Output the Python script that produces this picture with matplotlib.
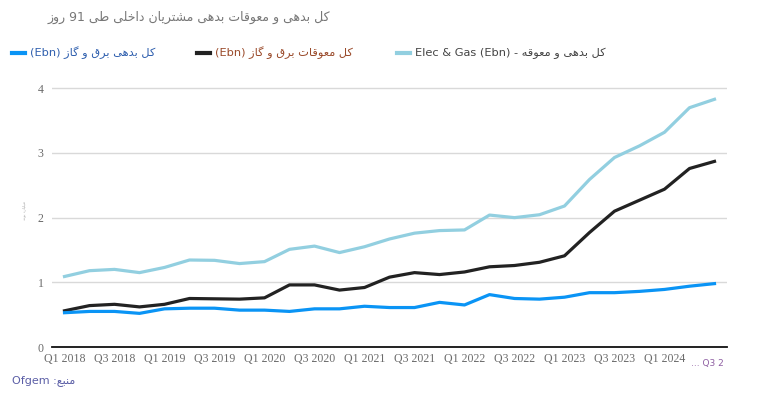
import matplotlib
matplotlib.use("Agg")
import matplotlib.pyplot as plt
from matplotlib.lines import Line2D
import numpy as np

# data (billion pounds, quarterly Q1 2018 .. Q3 2024)
quarters = [f"Q{q} {y}" for y in range(2018, 2025) for q in (1, 2, 3, 4)][:27]
total_debt = [0.53, 0.55, 0.55, 0.52, 0.59, 0.60, 0.60, 0.57, 0.57, 0.55, 0.59,
              0.59, 0.63, 0.61, 0.61, 0.69, 0.65, 0.81, 0.75, 0.74, 0.77,
              0.84, 0.84, 0.86, 0.89, 0.94, 0.98]
arrears = [0.56, 0.64, 0.66, 0.62, 0.66, 0.75, 0.745, 0.74, 0.76, 0.96, 0.96,
           0.88, 0.92, 1.08, 1.15, 1.12, 1.16, 1.24, 1.26, 1.31, 1.41,
           1.77, 2.10, 2.27, 2.44, 2.76, 2.87]
debt_and_arrears = [1.09, 1.18, 1.20, 1.15, 1.23, 1.345, 1.34, 1.29, 1.32, 1.51, 1.56,
                    1.46, 1.55, 1.67, 1.76, 1.80, 1.81, 2.04, 2.00, 2.045, 2.18,
                    2.59, 2.93, 3.11, 3.32, 3.70, 3.83]
tick_labels = quarters[0::2]

# --- minimal Persian shaping (matplotlib has no text shaper) ---
FORMS = {
    "ا": (0xFE8D, 0xFE8E, None, None), "آ": (0xFE81, 0xFE82, None, None),
    "ب": (0xFE8F, 0xFE90, 0xFE91, 0xFE92), "پ": (0xFB56, 0xFB57, 0xFB58, 0xFB59),
    "ت": (0xFE95, 0xFE96, 0xFE97, 0xFE98), "ج": (0xFE9D, 0xFE9E, 0xFE9F, 0xFEA0),
    "ح": (0xFEA1, 0xFEA2, 0xFEA3, 0xFEA4), "خ": (0xFEA5, 0xFEA6, 0xFEA7, 0xFEA8),
    "د": (0xFEA9, 0xFEAA, None, None), "ر": (0xFEAD, 0xFEAE, None, None),
    "ز": (0xFEAF, 0xFEB0, None, None), "س": (0xFEB1, 0xFEB2, 0xFEB3, 0xFEB4),
    "ش": (0xFEB5, 0xFEB6, 0xFEB7, 0xFEB8), "ط": (0xFEC1, 0xFEC2, 0xFEC3, 0xFEC4),
    "ع": (0xFEC9, 0xFECA, 0xFECB, 0xFECC), "ق": (0xFED5, 0xFED6, 0xFED7, 0xFED8),
    "ک": (0xFB8E, 0xFB8F, 0xFB90, 0xFB91), "گ": (0xFB92, 0xFB93, 0xFB94, 0xFB95),
    "ل": (0xFEDD, 0xFEDE, 0xFEDF, 0xFEE0), "م": (0xFEE1, 0xFEE2, 0xFEE3, 0xFEE4),
    "ن": (0xFEE5, 0xFEE6, 0xFEE7, 0xFEE8), "و": (0xFEED, 0xFEEE, None, None),
    "ه": (0xFEE9, 0xFEEA, 0xFEEB, 0xFEEC), "ی": (0xFBFC, 0xFBFD, 0xFBFE, 0xFBFF),
}


def shape(s):
    out = []
    for i, ch in enumerate(s):
        if ch not in FORMS:
            out.append(ch)
            continue
        prev = s[i - 1] if i > 0 else ""
        nxt = s[i + 1] if i + 1 < len(s) else ""
        join_prev = prev in FORMS and FORMS[prev][2] is not None
        join_next = nxt in FORMS and FORMS[ch][2] is not None
        iso, fin, ini, med = FORMS[ch]
        if join_prev and join_next:
            out.append(chr(med))
        elif join_prev:
            out.append(chr(fin))
        elif join_next:
            out.append(chr(ini))
        else:
            out.append(chr(iso))
    return "".join(out)


def rtl(s):
    rev = shape(s)[::-1]
    # keep digit runs left-to-right
    res, run = "", ""
    for ch in rev:
        if ch.isdigit():
            run += ch
        else:
            res += run[::-1] + ch
            run = ""
    return res + run[::-1]


plt.rcParams["font.family"] = ["DejaVu Sans"]

fig = plt.figure(figsize=(7.6, 3.93), dpi=100)
ax = fig.add_axes([52 / 760, 1 - 347 / 393, 675 / 760, 260 / 393])

x = np.arange(len(quarters))
c_total, c_arrears, c_both = "#0a94f5", "#222222", "#92cfe0"
ax.plot(x, debt_and_arrears, color=c_both, lw=2.3, solid_joinstyle="round")
ax.plot(x, arrears, color=c_arrears, lw=2.3, solid_joinstyle="round")
ax.plot(x, total_debt, color=c_total, lw=2.3, solid_joinstyle="round")

ax.set_xlim(-0.5, len(quarters) - 0.5)
ax.set_ylim(0, 4.02)
ax.set_yticks([0, 1, 2, 3, 4])
ax.grid(axis="y", color="#d9d9d9", lw=1)
ax.set_axisbelow(True)
for sp in ["top", "right", "left"]:
    ax.spines[sp].set_visible(False)
ax.spines["bottom"].set_color("#111111")
ax.spines["bottom"].set_linewidth(1.3)
ax.tick_params(length=0, pad=6)
ax.tick_params(axis="x", pad=4)

# last (truncated) label is drawn separately, a bit left of its tick
ax.set_xticks(x[0::2][:-1])
ax.set_xticklabels(tick_labels[:-1])
for lab in ax.get_xticklabels() + ax.get_yticklabels():
    lab.set_fontfamily("Liberation Serif")
    lab.set_fontsize(8.6)
    lab.set_color("#6b6b6b")
ax.text(x[-1] - 0.95, -0.045, "... Q3 2", transform=ax.get_xaxis_transform(),
        fontsize=6.5, color="#8e5ea2", ha="left", va="top")

fig.text(24 / 760, 1 - 210 / 393, rtl("میلیارد پوند"), rotation=90, fontsize=3,
         color="#aaaaaa", ha="center", va="center")

# title
fig.text(330 / 760, 1 - 17 / 393, rtl("کل بدهی و معوقات بدهی مشتریان داخلی طی 91 روز"),
         fontsize=9, color="#777777", ha="right", va="center")

# legend
legend_items = [
    (12, "(Ebn) " + rtl("کل بدهی برق و گاز"), c_total, "#2f5fae"),
    (197, "(Ebn) " + rtl("کل معوقات برق و گاز"), c_arrears, "#9a4a2a"),
    (397, "Elec & Gas (Ebn) - " + rtl("کل بدهی و معوقه"), c_both, "#444444"),
]
ly = 1 - 53 / 393
for px, label, lc, tc in legend_items:
    fig.add_artist(Line2D([px / 760, (px + 13) / 760], [ly, ly], color=lc, lw=3,
                          transform=fig.transFigure))
    fig.text((px + 18) / 760, ly, label, fontsize=8.2, color=tc, ha="left", va="center")

# source
fig.text(12 / 760, 1 - 381 / 393, "Ofgem " + rtl("منبع:"), fontsize=8,
         color="#5b5ea6", ha="left", va="center")

fig.savefig("out.png", dpi=100)
